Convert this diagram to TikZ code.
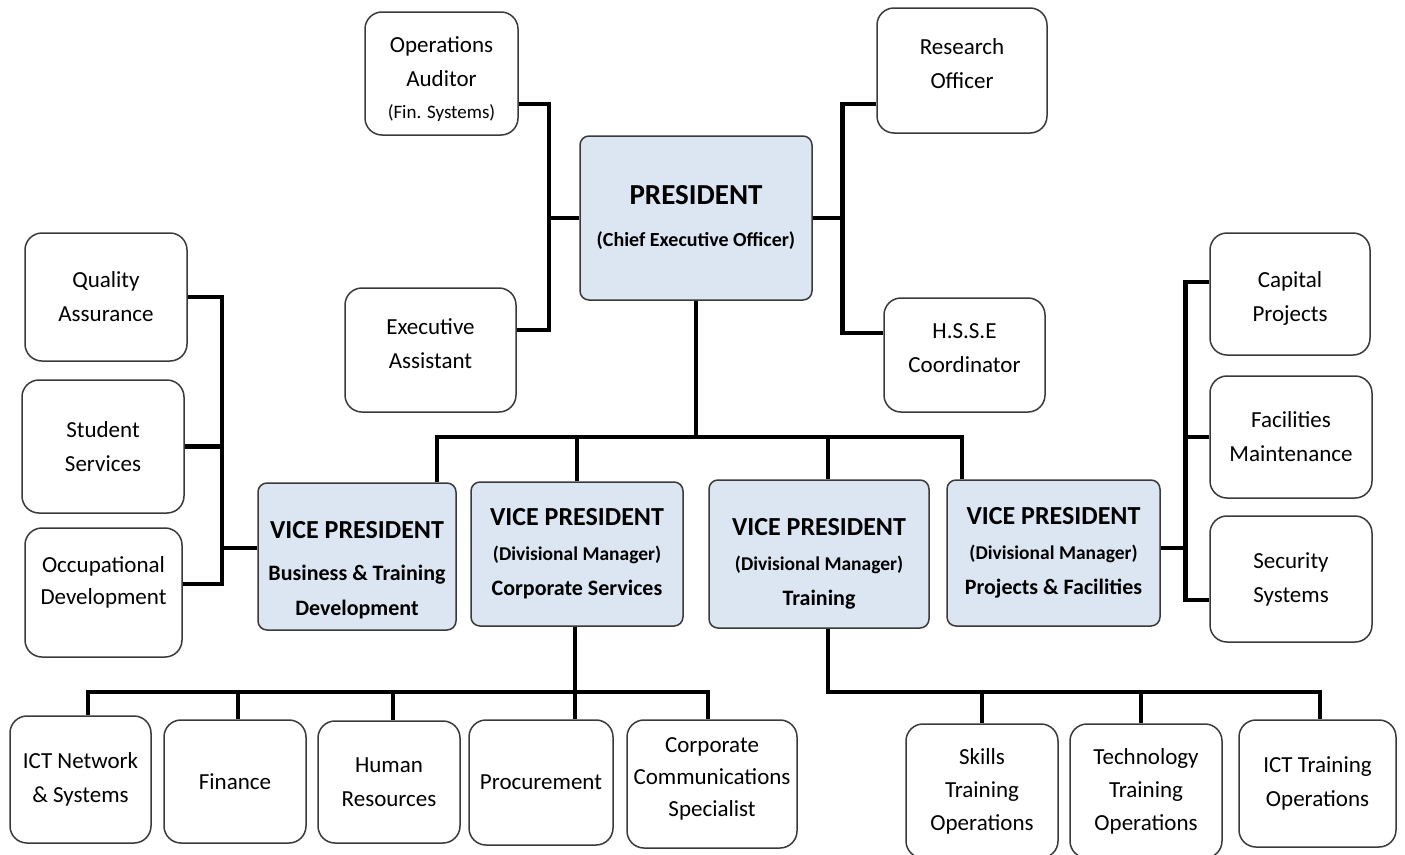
\documentclass[tikz,border=0pt]{standalone}
\usepackage{fontspec}
\setmainfont{Carlito}
\usetikzlibrary{calc}
\definecolor{OrgBlue}{HTML}{DCE6F2}
\definecolor{OrgEdge}{HTML}{3A3A3A}
\newcommand{\vptitle}{{\fontsize{26}{35}\selectfont VICE PRESIDENT}}
\newcommand{\divmgr}{{\fontsize{19.5}{35}\selectfont(Divisional Manager)}}
% invisible struts to nudge text up or down in a box
\newcommand{\padtop}[1]{\rule{0pt}{#1}}
\newcommand{\padbot}[1]{\rule[-#1]{0pt}{#1}}

\begin{document}
\begin{tikzpicture}[x=1pt,y=-1pt,
  unit/.style={draw=OrgEdge,line width=1.5pt,rounded corners=17pt,fill=white,align=center,inner sep=2pt,font=\fontsize{23}{34}\selectfont},
  head/.style={draw=OrgEdge,line width=1.5pt,rounded corners=9pt,fill=OrgBlue,align=center,inner sep=2pt,font=\bfseries\fontsize{22}{35}\selectfont},
  link/.style={line width=4.5pt},
  sz/.style args={#1x#2}{minimum width=#1pt,minimum height=#2pt},
]
\useasboundingbox (0,0) rectangle (1405,854);
\clip (0,0) rectangle (1405,854);
% president and staff
\node[head,sz=232x164,font=\bfseries\fontsize{20}{42}\selectfont] (pres) at (696,218) {{\fontsize{29}{42}\selectfont PRESIDENT}\\(Chief Executive Officer)};
\node[unit,sz=153x123,font=\fontsize{23}{34}\selectfont] (audit) at (441.5,73.5) {\padtop{27pt}Operations\\Auditor\\[-2pt]{\fontsize{19}{34}\selectfont(Fin. Systems)}};
\node[unit,sz=171x124] (exec) at (430.5,350) {Executive\\Assistant\padbot{12pt}};
\node[unit,sz=170x125] (research) at (962,70.5) {Research\\Officer\padbot{14pt}};
\node[unit,sz=161x114] (hsse) at (964.5,355) {H.S.S.E\\Coordinator\padbot{13pt}};
% vice presidents
\node[head,sz=198x147] (vpbtd) at (357,556.5) {\padtop{44pt}\vptitle\\[7pt]Business \& Training\\Development};
\node[head,sz=212x144] (vpcs) at (577,554) {\vptitle\\\divmgr\\Corporate Services};
\node[head,sz=220x148] (vptr) at (819,554) {\padtop{37pt}\vptitle\\\divmgr\\Training};
\node[head,sz=213x146] (vppf) at (1053.5,553) {\vptitle\\\divmgr\\Projects \& Facilities};
% business & training development
\node[unit,sz=162x128] (qa) at (106,297) {Quality\\Assurance};
\node[unit,sz=162x133] (stud) at (103,446.5) {Student\\Services};
\node[unit,sz=157x129,font=\fontsize{23}{32}\selectfont] (occ) at (103.5,592.5) {Occupational\\Development\padbot{24pt}};
% projects & facilities
\node[unit,sz=160x122] (capital) at (1290,294) {\padtop{25pt}Capital\\Projects};
\node[unit,sz=162x122] (facil) at (1291,437) {Facilities\\Maintenance};
\node[unit,sz=162x126] (secur) at (1291,579) {Security\\Systems};
% corporate services
\node[unit,sz=141x127] (ictnet) at (80.5,779.5) {ICT Network\\\& Systems};
\node[unit,sz=142x123] (finance) at (235,781.5) {Finance};
\node[unit,sz=142x122] (hr) at (389,782) {Human\\Resources};
\node[unit,sz=144x125] (procure) at (541,782.5) {Procurement};
\node[unit,sz=170x128,font=\fontsize{23}{32}\selectfont] (corpcomm) at (712,784) {Corporate\\Communications\\Specialist\padbot{13pt}};
% training
\node[unit,sz=152x134,font=\fontsize{23}{33}\selectfont] (skills) at (982,791) {Skills\\Training\\Operations};
\node[unit,sz=152x134,font=\fontsize{23}{33}\selectfont] (tech) at (1146,791) {Technology\\Training\\Operations};
\node[unit,sz=157x127] (icttrain) at (1317.5,783.5) {ICT Training\\Operations};

% connectors
\draw[link] ([yshift=-30.5pt]audit.east) -| ([xshift=32pt,yshift=20pt]exec.east) -- ([yshift=20pt]exec.east);
\draw[link] (pres.west) -- ++(-32,0);
\draw[link] ([yshift=-33.5pt]research.west) -| ([xshift=-41pt,yshift=22pt]hsse.west) -- ([yshift=22pt]hsse.west);
\draw[link] (pres.east) -- ++(31,0);
\coordinate (bus) at ($(pres.south)+(0,136)$);
\draw[link] (pres.south) -- (bus);
\draw[link] ([xshift=80pt]vpbtd.north) |- (bus) -| ([xshift=-91.5pt]vppf.north);
\draw[link] (vpcs.north) -- (vpcs.north |- bus);
\draw[link] ([xshift=9pt]vptr.north) -- ([xshift=9pt]vptr.north |- bus);
\draw[link] (qa.east) -| ([xshift=39pt,yshift=8.5pt]occ.east) -- ([yshift=8.5pt]occ.east);
\draw[link] (stud.east) -- ++(37,0);
\draw[link] ([yshift=8.5pt]vpbtd.west) -- ++(-37,0);
\draw[link] ([yshift=12pt]capital.west) -| ([xshift=-24pt,yshift=-21pt]secur.west) -- ([yshift=-21pt]secur.west);
\draw[link] (facil.west) -- ++(-24,0);
\draw[link] ([yshift=5pt]vppf.east) -- ++(26,0);
\coordinate (busCS) at ($(vpcs.south)+(-2,65)$);
\draw[link] ([xshift=-2pt]vpcs.south) -- (busCS);
\draw[link] ([xshift=7.5pt]ictnet.north) |- (busCS) -| ([xshift=-4pt]corpcomm.north);
\foreach \n/\dx in {finance/3,hr/4,procure/34}
  \draw[link] ([xshift=\dx pt]\n.north) -- ([xshift=\dx pt]\n.north |- busCS);
\coordinate (busTR) at ($(vptr.south)+(9,63)$);
\draw[link] ([xshift=9pt]vptr.south) -- (busTR) -| ([xshift=2.5pt]icttrain.north);
\draw[link] (skills.north) -- (skills.north |- busTR);
\draw[link] ([xshift=-5pt]tech.north) -- ([xshift=-5pt]tech.north |- busTR);
\end{tikzpicture}
\end{document}
